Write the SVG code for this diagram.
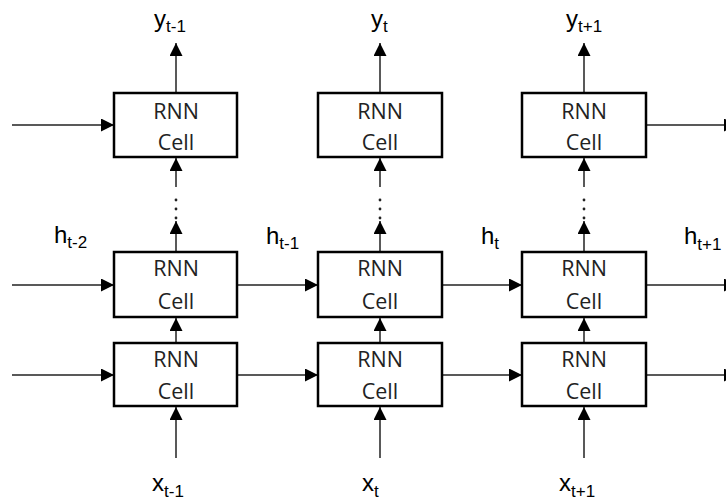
<svg xmlns="http://www.w3.org/2000/svg" width="726" height="501" viewBox="0 0 726 501">
<defs>
<marker id="ah" markerUnits="userSpaceOnUse" markerWidth="14" markerHeight="14" refX="13" refY="6.5" orient="auto">
<path d="M0,0 L13,6.5 L0,13 z" fill="#000"/>
</marker>
<style>
.box{fill:#fff;stroke:#000;stroke-width:2.5}
.lbl{font-family:"Open Sans",sans-serif;font-size:21.5px;fill:#222;text-anchor:middle}
.var{font-family:"Liberation Sans",Arial,sans-serif;font-size:24px;fill:#000}
.sub{font-size:17px}
.c{stroke:#222;stroke-width:1.5;fill:none;marker-end:url(#ah)}
.dot{fill:#222}
</style>
</defs>
<rect width="726" height="501" fill="#fff"/>
<g id="connectors">
<line class="c" x1="12" y1="125" x2="114" y2="125"/>
<line class="c" x1="12" y1="285" x2="114" y2="285"/>
<line class="c" x1="12" y1="375" x2="114" y2="375"/>
<line class="c" x1="238" y1="285" x2="318" y2="285"/>
<line class="c" x1="238" y1="375" x2="318" y2="375"/>
<line class="c" x1="442" y1="285" x2="522" y2="285"/>
<line class="c" x1="442" y1="375" x2="522" y2="375"/>
<line class="c" x1="646" y1="125" x2="737" y2="125"/>
<line class="c" x1="646" y1="285" x2="737" y2="285"/>
<line class="c" x1="646" y1="375" x2="737" y2="375"/>
<line class="c" x1="176" y1="93" x2="176" y2="43"/>
<line class="c" x1="380" y1="93" x2="380" y2="43"/>
<line class="c" x1="584" y1="93" x2="584" y2="43"/>
<line class="c" x1="176" y1="187" x2="176" y2="158"/>
<line class="c" x1="380" y1="187" x2="380" y2="158"/>
<line class="c" x1="584" y1="187" x2="584" y2="158"/>
<line class="c" x1="176" y1="252" x2="176" y2="221"/>
<line class="c" x1="380" y1="252" x2="380" y2="221"/>
<line class="c" x1="584" y1="252" x2="584" y2="221"/>
<line class="c" x1="176" y1="343" x2="176" y2="318"/>
<line class="c" x1="380" y1="343" x2="380" y2="318"/>
<line class="c" x1="584" y1="343" x2="584" y2="318"/>
<line class="c" x1="176" y1="458" x2="176" y2="407"/>
<line class="c" x1="380" y1="458" x2="380" y2="407"/>
<line class="c" x1="584" y1="458" x2="584" y2="407"/>
<g class="dot">
<circle cx="176" cy="200" r="1.4"/><circle cx="176" cy="209" r="1.4"/><circle cx="176" cy="218" r="1.4"/>
<circle cx="380" cy="200" r="1.4"/><circle cx="380" cy="209" r="1.4"/><circle cx="380" cy="218" r="1.4"/>
<circle cx="584" cy="200" r="1.4"/><circle cx="584" cy="209" r="1.4"/><circle cx="584" cy="218" r="1.4"/>
</g>
</g>
<g id="cell-top-1"><rect class="box" x="114" y="93" width="123" height="64"/><text class="lbl" x="176" y="119">RNN</text><text class="lbl" x="176" y="150">Cell</text></g>
<g id="cell-top-2"><rect class="box" x="318" y="93" width="124" height="64"/><text class="lbl" x="380" y="119">RNN</text><text class="lbl" x="380" y="150">Cell</text></g>
<g id="cell-top-3"><rect class="box" x="522" y="93" width="124" height="64"/><text class="lbl" x="584" y="119">RNN</text><text class="lbl" x="584" y="150">Cell</text></g>
<g id="cell-mid-1"><rect class="box" x="114" y="252" width="123" height="65"/><text class="lbl" x="176" y="276">RNN</text><text class="lbl" x="176" y="309">Cell</text></g>
<g id="cell-mid-2"><rect class="box" x="318" y="252" width="124" height="65"/><text class="lbl" x="380" y="276">RNN</text><text class="lbl" x="380" y="309">Cell</text></g>
<g id="cell-mid-3"><rect class="box" x="522" y="252" width="124" height="65"/><text class="lbl" x="584" y="276">RNN</text><text class="lbl" x="584" y="309">Cell</text></g>
<g id="cell-bot-1"><rect class="box" x="114" y="343" width="123" height="63"/><text class="lbl" x="176" y="367">RNN</text><text class="lbl" x="176" y="399">Cell</text></g>
<g id="cell-bot-2"><rect class="box" x="318" y="343" width="124" height="63"/><text class="lbl" x="380" y="367">RNN</text><text class="lbl" x="380" y="399">Cell</text></g>
<g id="cell-bot-3"><rect class="box" x="522" y="343" width="124" height="63"/><text class="lbl" x="584" y="367">RNN</text><text class="lbl" x="584" y="399">Cell</text></g>
<g id="labels">
<text class="var" x="154" y="27">y<tspan class="sub" dy="5">t-1</tspan></text>
<text class="var" x="371" y="27">y<tspan class="sub" dy="5">t</tspan></text>
<text class="var" x="566" y="27">y<tspan class="sub" dy="5">t+1</tspan></text>
<text class="var" x="54" y="243">h<tspan class="sub" dy="5">t-2</tspan></text>
<text class="var" x="266" y="244">h<tspan class="sub" dy="5">t-1</tspan></text>
<text class="var" x="481" y="244">h<tspan class="sub" dy="5">t</tspan></text>
<text class="var" x="684" y="244">h<tspan class="sub" dy="6">t+1</tspan></text>
<text class="var" x="152" y="491">x<tspan class="sub" dy="6">t-1</tspan></text>
<text class="var" x="362" y="491">x<tspan class="sub" dy="6">t</tspan></text>
<text class="var" x="559" y="491">x<tspan class="sub" dy="6">t+1</tspan></text>
</g>
</svg>
